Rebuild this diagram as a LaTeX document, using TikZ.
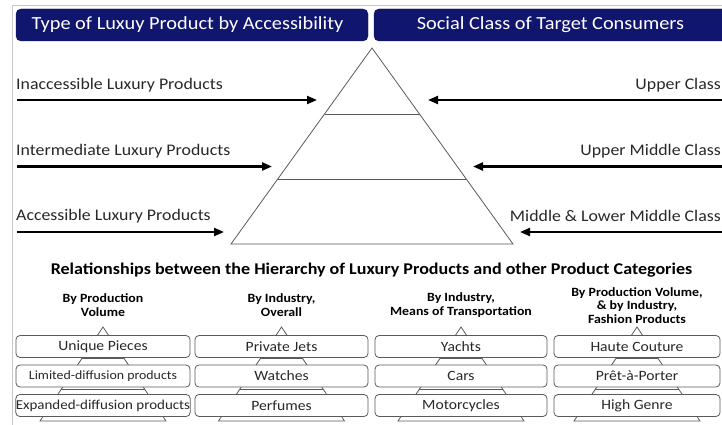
\documentclass[tikz,border=0pt]{standalone}
\usepackage{fontspec}
\setmainfont{Carlito}[FakeStretch=1.1]
\usetikzlibrary{arrows.meta}
\definecolor{navy}{RGB}{16,22,110}
\definecolor{framegrey}{RGB}{200,200,200}
\definecolor{linegrey}{RGB}{90,90,90}
\definecolor{txt}{RGB}{40,40,40}
\tikzset{
  hdr/.style={draw=navy!70!black, fill=navy, rounded corners=5pt,
    inner sep=0pt, minimum height=32pt},
  hdrtext/.style={inner sep=0pt, text=white, font=\fontsize{18.5}{22}\selectfont},
  lbl/.style={inner sep=0pt, text=txt, font=\fontsize{16.2}{19}\selectfont},
  arr/.style={line width=2.2pt, -{Triangle[length=10pt,width=8pt]}},
  pyr/.style={draw=linegrey, line width=0.8pt},
  colhead/.style={inner sep=0pt, align=center, text=black,
    font=\bfseries\fontsize{12.6}{13.8}\selectfont},
  itembox/.style={draw=linegrey, fill=white, rounded corners=4pt, line width=0.8pt,
    inner sep=0pt, minimum height=22pt, text=txt, font=\fontsize{14.2}{17}\selectfont},
}
\begin{document}
\begin{tikzpicture}[x=1pt, y=-1pt]
\useasboundingbox (0,0) rectangle (722,425);

% page frame
\draw[framegrey, line width=0.8pt] (12,425) -- (12,5) -- (722,5);

% headers
\node[hdr, minimum width=352pt] (hleft) at (192,25) {};
\node[hdrtext] (hlefttext) at (187.5,25) {Type of Luxuy Product by Accessibility};
\node[hdr, minimum width=356pt] (hright) at (552,25) {};
\node[hdrtext] (hrighttext) at (550.5,25) {Social Class of Target Consumers};

% main pyramid
\coordinate (apex) at (372,48);
\coordinate (bl) at (231,244);
\coordinate (br) at (513,244);
\draw[pyr] (apex) -- (bl) -- (br) -- cycle;
\draw[pyr] (324.5,114) -- (419.5,114);
\draw[pyr] (277.8,179) -- (466.2,179);

% left side: product types
\node[lbl, anchor=west] (lp1) at (16,85) {Inaccessible Luxury Products};
\node[lbl, anchor=west] (lp2) at (16,151) {Intermediate Luxury Products};
\node[lbl, anchor=west] (lp3) at (16,216) {Accessible Luxury Products};
\coordinate (la1) at (17,100);  \coordinate (la1e) at (317,100);
\coordinate (la2) at (17,166.5);\coordinate (la2e) at (272,166.5);
\coordinate (la3) at (17,232);  \coordinate (la3e) at (224,232);
\draw[arr] (la1) -- (la1e);
\draw[arr] (la2) -- (la2e);
\draw[arr] (la3) -- (la3e);

% right side: social classes
\node[lbl, anchor=east] (rc1) at (721,85) {Upper Class};
\node[lbl, anchor=east] (rc2) at (721,151) {Upper Middle Class};
\node[lbl, anchor=east] (rc3) at (721,216) {Middle \& Lower Middle Class};
\coordinate (ra1) at (730,100);  \coordinate (ra1e) at (428,100);
\coordinate (ra2) at (730,166.5);\coordinate (ra2e) at (473,166.5);
\coordinate (ra3) at (730,232);  \coordinate (ra3e) at (520,232);
\draw[arr] (ra1) -- (ra1e);
\draw[arr] (ra2) -- (ra2e);
\draw[arr] (ra3) -- (ra3e);

% lower section title
\node[inner sep=0pt, font=\bfseries\fontsize{16.4}{19}\selectfont, text=black] (title) at (371.5,270)
  {Relationships between the Hierarchy of Luxury Products and other Product Categories};

% small pyramids behind the item boxes
\foreach \c in {103,281.5,461,637}{
  \draw[pyr] (\c,327) -- (\c-63,421) -- (\c+63,421) -- cycle;
  \draw[pyr] (\c-21.1,358.5) -- (\c+21.1,358.5);
  \draw[pyr] (\c-41.9,389.5) -- (\c+41.9,389.5);
}

% column 1
\node[colhead] (h1) at (103,305) {By Production\\Volume};
\node[itembox, minimum width=174pt] (a1) at (103,346.5) {Unique Pieces};
\node[itembox, minimum width=174pt, font=\fontsize{12.6}{15}\selectfont] (a2) at (103,376) {Limited-diffusion products};
\node[itembox, minimum width=174pt, font=\fontsize{13.6}{16}\selectfont] (a3) at (103,405.5) {Expanded-diffusion products};

% column 2
\node[colhead] (h2) at (281.5,305) {By Industry,\\Overall};
\node[itembox, minimum width=173pt] (b1) at (281.5,346.5) {Private Jets};
\node[itembox, minimum width=173pt] (b2) at (281.5,376) {Watches};
\node[itembox, minimum width=173pt] (b3) at (281.5,405.5) {Perfumes};

% column 3
\node[colhead] (h3) at (461,305) {By Industry,\\Means of Transportation};
\node[itembox, minimum width=172pt] (c1) at (461,346.5) {Yachts};
\node[itembox, minimum width=172pt] (c2) at (461,376) {Cars};
\node[itembox, minimum width=172pt] (c3) at (461,405.5) {Motorcycles};

% column 4
\node[colhead] (h4) at (637,305.5) {By Production Volume,\\\& by Industry,\\Fashion Products};
\node[itembox, minimum width=166pt] (d1) at (637,346.5) {Haute Couture};
\node[itembox, minimum width=166pt] (d2) at (637,376) {Prêt-à-Porter};
\node[itembox, minimum width=166pt] (d3) at (637,405.5) {High Genre};
\end{tikzpicture}
\end{document}
